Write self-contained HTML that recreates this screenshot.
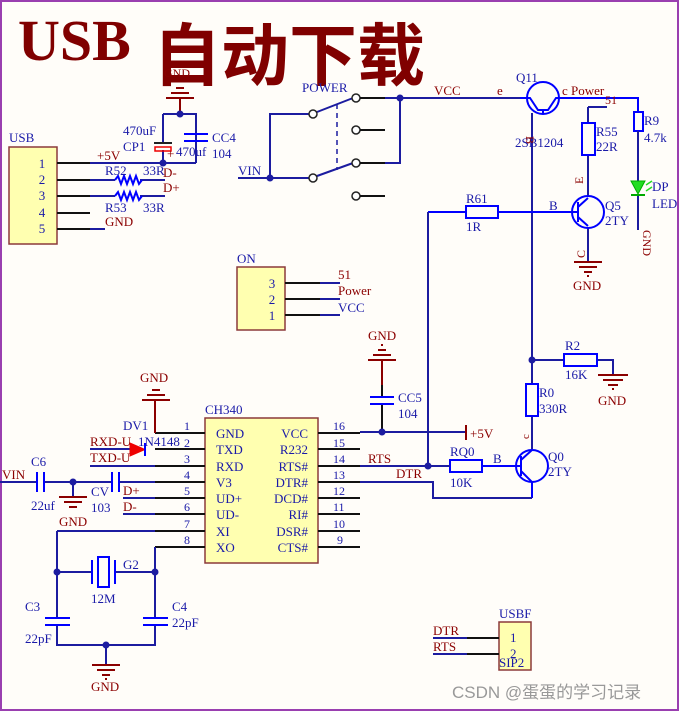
<!DOCTYPE html>
<html><head><meta charset="utf-8"><style>
html,body{margin:0;padding:0;background:#fffdf9;}
svg{display:block}
text{font-family:"Liberation Serif",serif;}
.b{fill:#1a1aa8;font-size:13px}
.r{fill:#8b0000;font-size:13px}
.w{stroke:#1c1ca0;stroke-width:2;fill:none}
.k{stroke:#111;stroke-width:2;fill:none}
.c{stroke:#0000ff;stroke-width:2;fill:none}
.g{stroke:#8b0000;stroke-width:2;fill:none}
</style></head><body>
<svg width="679" height="711" viewBox="0 0 679 711" xmlns="http://www.w3.org/2000/svg">
<rect x="1" y="1" width="677" height="709" fill="#fffdf9" stroke="#9a3fb0" stroke-width="2"/>
<text x="18" y="60" style="font-size:58px;font-weight:bold;fill:#800000">USB</text>
<text x="153" y="80" style="font-family:'Liberation Sans','Noto Sans CJK SC',sans-serif;font-size:68px;font-weight:bold;fill:#800000">自动下载</text>

<!-- USB connector -->
<text x="9" y="142" class="b">USB</text>
<rect x="9" y="147" width="48" height="97" fill="#ffffb0" stroke="#8b3a3a" stroke-width="1.5"/>
<g class="b" text-anchor="middle"><text x="42" y="168">1</text><text x="42" y="184">2</text><text x="42" y="200">3</text><text x="42" y="217">4</text><text x="42" y="233">5</text></g>
<path d="M57 163H195V163M57 180H90M57 196H90M57 213H90M57 229H90" class="k"/>
<path d="M90 163H196M90 180H115M140 180H165M90 196H115M140 196H165M90 229H105" class="w"/>
<path d="M115 180l3-4 3 8 3-8 3 8 3-8 3 8 3-8 3 8 3-4M115 196l3-4 3 8 3-8 3 8 3-8 3 8 3-8 3 8 3-4" class="c" stroke-width="1.5"/>
<text x="97" y="160" class="r">+5V</text><text x="105" y="175" class="b">R52</text><text x="143" y="175" class="b">33R</text><text x="163" y="177" class="r">D-</text>
<text x="163" y="192" class="r">D+</text><text x="105" y="212" class="b">R53</text><text x="143" y="212" class="b">33R</text><text x="105" y="226" class="r">GND</text>
<!-- caps -->
<path d="M180 114V98M166 98H194M171 93H189M176 88H184" class="g"/>
<text x="164" y="77" class="r" style="font-size:12px">GND</text>
<path d="M163 114H196V163M163 114V143M163 150V163" class="w"/>
<circle cx="180" cy="114" r="3.5" fill="#1c1ca0"/><circle cx="163" cy="163" r="3.5" fill="#1c1ca0"/>
<path d="M154 143H172" stroke="#222" stroke-width="2"/><rect x="155" y="147" width="16" height="4" fill="none" stroke="#e00" stroke-width="1.5"/>
<path d="M184 134H208M184 141H208" class="c"/>
<text x="123" y="135" class="b">470uF</text><text x="123" y="151" class="b">CP1</text><text x="167" y="158" class="r">+</text><text x="176" y="156" class="b">470uf</text>
<text x="212" y="142" class="b">CC4</text><text x="212" y="158" class="b">104</text>

<!-- switch -->
<text x="302" y="92" class="b">POWER</text>
<path d="M313 114H270V178H313M238 178H270" class="w"/>
<circle cx="270" cy="178" r="3.5" fill="#1c1ca0"/>
<text x="238" y="175" class="b">VIN</text>
<path d="M317 112L353 98M317 176L353 163" class="w"/>
<path d="M337 104V170" stroke="#1c1ca0" stroke-width="1.5" stroke-dasharray="5,4"/>
<g fill="#fff" stroke="#222" stroke-width="1.5"><circle cx="313" cy="114" r="4"/><circle cx="313" cy="178" r="4"/><circle cx="356" cy="98" r="4"/><circle cx="356" cy="130" r="4"/><circle cx="356" cy="163" r="4"/><circle cx="356" cy="196" r="4"/></g>
<path d="M360 98H385M360 130H385M360 163H385M360 196H385" class="k"/>
<path d="M385 98H520M385 163H400V98" class="w"/>
<circle cx="400" cy="98" r="3.5" fill="#1c1ca0"/>
<text x="434" y="95" class="r">VCC</text><text x="497" y="95" class="r">e</text>

<!-- Q11 -->
<circle cx="543" cy="98" r="16" class="c"/>
<path d="M520 98H530L538 110H548L556 98H638V112M543 110V113" class="c"/>
<path d="M532 113V360" class="w"/>
<text x="516" y="82" class="b">Q11</text><text x="562" y="95" class="r">c Power</text><text x="605" y="104" class="r" style="font-size:12px">51</text>
<text x="515" y="147" class="b">2SB1204</text><text x="526" y="136" class="r" transform="rotate(90 526 136)" style="font-size:12px">B</text>
<!-- R55/Q5 -->
<path d="M588 107H607M588 107V123M588 155V196M588 228V262" class="w"/>
<rect x="582" y="123" width="13" height="32" fill="none" class="c"/>
<text x="596" y="136" class="b">R55</text><text x="596" y="151" class="b">22R</text>
<text x="575" y="176" class="r" transform="rotate(-90 583 176)" style="font-size:12px">E</text>
<circle cx="588" cy="212" r="16" class="c"/>
<path d="M428 212H466M498 212H578M578 202V222M578 207L588 198M578 217L588 226" class="c"/>
<path d="M428 212V466" class="w"/>
<rect x="466" y="206" width="32" height="12" fill="none" class="c"/>
<text x="466" y="203" class="b">R61</text><text x="466" y="231" class="b">1R</text><text x="549" y="210" class="b">B</text>
<text x="605" y="210" class="b">Q5</text><text x="605" y="225" class="b">2TY</text>
<text x="575" y="252" class="r" transform="rotate(-90 583 250)" style="font-size:12px">C</text>
<path d="M574 262H602M579 267H597M584 272H592M587 276H589" class="g"/>
<text x="573" y="290" class="r">GND</text>
<!-- R9/LED -->
<rect x="634" y="112" width="9" height="19" fill="none" class="c"/>
<path d="M638 131V181M638 195V230" class="w"/>
<path d="M631 181H645L638 194Z" fill="#22dd22" stroke="#00aa00"/><path d="M631 195H645" stroke="#00aa00" stroke-width="2"/>
<path d="M646 185l6-4M646 191l6-4" stroke="#22dd22" stroke-width="1.5"/>
<text x="644" y="125" class="b">R9</text><text x="644" y="142" class="b">4.7k</text>
<text x="652" y="191" class="b">DP</text><text x="652" y="208" class="b">LED</text>
<text x="643" y="230" class="r" transform="rotate(90 643 230)" style="font-size:12px">GND</text>

<!-- ON -->
<text x="237" y="263" class="b">ON</text>
<rect x="237" y="267" width="48" height="63" fill="#ffffb0" stroke="#8b3a3a" stroke-width="1.5"/>
<g class="b" text-anchor="middle"><text x="272" y="288">3</text><text x="272" y="304">2</text><text x="272" y="320">1</text></g>
<path d="M285 283H320M285 299H320M285 315H320" class="k"/><path d="M320 283H340M320 299H340M320 315H340" class="w"/>
<text x="338" y="279" class="r">51</text><text x="338" y="295" class="r">Power</text><text x="338" y="312" class="b">VCC</text>

<!-- CC5 -->
<text x="368" y="340" class="r">GND</text>
<path d="M382 360V385M368 360H396M373 355H391M378 350H386M381 345H383" class="g"/>
<path d="M382 385V397M382 404V432" class="k"/>
<path d="M370 397H394M370 404H394" class="c"/>
<text x="398" y="402" class="b">CC5</text><text x="398" y="418" class="b">104</text>
<path d="M360 432H466" class="w"/><circle cx="382" cy="432" r="3.5" fill="#1c1ca0"/>
<path d="M466 425V440" stroke="#8b0000" stroke-width="2"/><text x="470" y="438" class="r">+5V</text>

<!-- R2 / R0 / Q0 -->
<path d="M532 360H564M597 360H613V375M532 360V384M532 416V449" class="w"/>
<circle cx="532" cy="360" r="3.5" fill="#1c1ca0"/>
<rect x="564" y="354" width="33" height="12" fill="none" class="c"/>
<path d="M598 375H628M603 380H623M608 385H618M612 389H614" class="g"/>
<text x="565" y="350" class="b">R2</text><text x="565" y="379" class="b">16K</text><text x="598" y="405" class="r">GND</text>
<rect x="526" y="384" width="12" height="32" fill="none" class="c"/>
<text x="539" y="397" class="b">R0</text><text x="539" y="413" class="b">330R</text>
<text x="520" y="438" class="r" transform="rotate(-90 525 434)" style="font-size:11px">c</text>
<circle cx="532" cy="466" r="16" class="c"/>
<path d="M482 466H521M521 456V476M521 460L532 450M521 471L532 482V498" class="c"/>
<rect x="450" y="460" width="32" height="12" fill="none" class="c"/>
<text x="450" y="456" class="b">RQ0</text><text x="450" y="487" class="b">10K</text><text x="493" y="463" class="b">B</text>
<text x="548" y="461" class="b">Q0</text><text x="548" y="476" class="b">2TY</text>
<path d="M360 466H450M360 482H433V498H532" class="w"/>
<circle cx="428" cy="466" r="3.5" fill="#1c1ca0"/>
<text x="368" y="463" class="r">RTS</text><text x="396" y="478" class="r">DTR</text>

<!-- CH340 -->
<text x="205" y="414" class="b">CH340</text>
<rect x="205" y="418" width="113" height="145" fill="#ffffb0" stroke="#8b3a3a" stroke-width="1.5"/>
<g class="b"><text x="216" y="438">GND</text><text x="216" y="454">TXD</text><text x="216" y="471">RXD</text><text x="216" y="487">V3</text><text x="216" y="503">UD+</text><text x="216" y="519">UD-</text><text x="216" y="536">XI</text><text x="216" y="552">XO</text></g>
<g class="b" text-anchor="end"><text x="308" y="438">VCC</text><text x="308" y="454">R232</text><text x="308" y="471">RTS#</text><text x="308" y="487">DTR#</text><text x="308" y="503">DCD#</text><text x="308" y="519">RI#</text><text x="308" y="536">DSR#</text><text x="308" y="552">CTS#</text></g>
<g class="k"><path d="M155 433H205M155 449H205M155 466H205M155 482H205M155 498H205M155 514H205M155 531H205M155 547H205"/><path d="M318 433H360M318 449H360M318 466H360M318 482H360M318 498H360M318 514H360M318 531H360M318 547H360"/></g>
<g class="b" style="font-size:12px"><text x="184" y="430">1</text><text x="184" y="447">2</text><text x="184" y="463">3</text><text x="184" y="479">4</text><text x="184" y="495">5</text><text x="184" y="511">6</text><text x="184" y="528">7</text><text x="184" y="544">8</text>
<text x="333" y="430">16</text><text x="333" y="447">15</text><text x="333" y="463">14</text><text x="333" y="479">13</text><text x="333" y="495">12</text><text x="333" y="511">11</text><text x="333" y="528">10</text><text x="337" y="544">9</text></g>
<path d="M155 433V400M142 400H170M147 395H165M152 390H160" class="g"/><text x="140" y="382" class="r">GND</text>
<text x="123" y="430" class="b">DV1</text>
<path d="M90 449H130M90 466H155M123 498H155M123 514H155" class="w"/>
<path d="M130 443V456L145 449.5Z" fill="#e00" stroke="#e00"/><path d="M145 443V456" class="c" stroke-width="3"/>
<text x="90" y="446" class="r">RXD-U</text><text x="138" y="446" class="b">1N4148</text><text x="90" y="462" class="r">TXD-U</text>
<path d="M0 482H37M44 482H112M119 482H155M73 482V497" class="w"/>
<path d="M37 472V492M44 472V492M112 472V492M119 472V492" class="c"/>
<circle cx="73" cy="482" r="3.5" fill="#1c1ca0"/>
<path d="M59 497H87M64 502H82M69 507H77" class="g"/>
<text x="2" y="479" class="r">VIN</text><text x="31" y="466" class="b">C6</text><text x="31" y="510" class="b">22uf</text><text x="59" y="526" class="r">GND</text>
<text x="91" y="496" class="b">CV</text><text x="91" y="512" class="b">103</text><text x="123" y="495" class="r">D+</text><text x="123" y="511" class="r">D-</text>
<path d="M57 531H155M57 531V618M57 625V645H155V625M155 547V618M57 572H92M115 572H155M106 645V665" class="w"/>
<path d="M45 618H70M45 625H70M143 618H168M143 625H168M92 560V584M115 560V584" class="c"/>
<rect x="98" y="557" width="11" height="30" fill="none" class="c"/>
<circle cx="57" cy="572" r="3.5" fill="#1c1ca0"/><circle cx="155" cy="572" r="3.5" fill="#1c1ca0"/><circle cx="106" cy="645" r="3.5" fill="#1c1ca0"/>
<path d="M92 665H120M97 670H115M102 675H110M105 679H107" class="g"/>
<text x="123" y="569" class="b">G2</text><text x="91" y="603" class="b">12M</text>
<text x="25" y="611" class="b">C3</text><text x="25" y="643" class="b">22pF</text><text x="172" y="611" class="b">C4</text><text x="172" y="627" class="b">22pF</text>
<text x="91" y="691" class="r">GND</text>

<!-- USBF -->
<text x="499" y="618" class="b">USBF</text>
<rect x="499" y="622" width="32" height="48" fill="#ffffb0" stroke="#8b3a3a" stroke-width="1.5"/>
<text x="510" y="642" class="b">1</text><text x="510" y="658" class="b">2</text><text x="499" y="667" class="b">SIP2</text>
<path d="M433 638H467M433 654H467" class="w"/><path d="M467 638H499M467 654H499" class="k"/>
<text x="433" y="635" class="r">DTR</text><text x="433" y="651" class="r">RTS</text>
<text x="452" y="698" style="font-family:'Liberation Sans','Noto Sans CJK SC',sans-serif;font-size:17px;fill:#999">CSDN @蛋蛋的学习记录</text>
</svg>
</body></html>
